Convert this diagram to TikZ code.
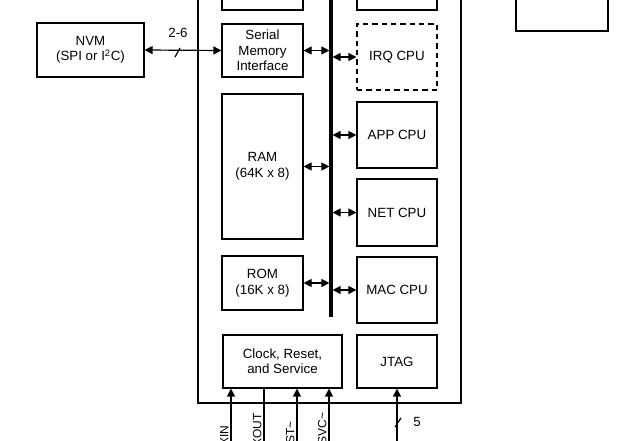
\documentclass[tikz,border=0pt]{standalone}
\usepackage{fontspec}
\setmainfont{Liberation Sans}
\usetikzlibrary{arrows.meta}
\newcommand{\px}{0.75pt}

\begin{document}
\begin{tikzpicture}[x=\px, y=-\px, line width=0.9pt,
	txt/.style={font=\fontsize{10}{11.6}\selectfont},
	blk/.style={txt, draw, inner sep=0pt, align=center},
	sz/.style 2 args={minimum width=#1*\px, minimum height=#2*\px},
	pin/.style={rotate=90, anchor=south east, inner sep=0pt, font=\fontsize{9}{10}\selectfont},
	>={Triangle[length=6pt,width=6pt]}]
	\useasboundingbox (0,0) rectangle (637,441);
	\draw (198,-10) rectangle (461,403);
	\node[blk, sz={81}{40}] (MEMX) at (262.5,-10) {};
	\node[blk, sz={80}{40}] (CPUX) at (397,-10) {};
	\node[blk, sz={92}{61}] (EXT) at (562,0.5) {};
	\node[blk, sz={107}{54}] (NVM) at (90.5,50) {NVM\\(SPI or I\textsuperscript{2}C)};
	\node[blk, sz={81}{53}] (SMI) at (262.5,50.5) {Serial\\Memory\\Interface};
	\node[blk, sz={81}{145}] (RAM) at (262.5,166.5) {RAM\\(64K x 8)};
	\node[blk, sz={81}{54}] (ROM) at (262.5,283) {ROM\\(16K x 8)};
	\node[blk, sz={119}{53}] (CLK) at (282.5,361.5) {Clock, Reset,\\and Service};
	\node[blk, sz={80}{66}, dashed, dash pattern=on 4pt off 3pt] (IRQ) at (397,57) {IRQ CPU};
	\node[blk, sz={80}{66}] (APP) at (397,135) {APP CPU};
	\node[blk, sz={80}{67}] (NET) at (397,212.5) {NET CPU};
	\node[blk, sz={80}{66}] (MAC) at (397,290) {MAC CPU};
	\node[blk, sz={80}{53}] (JTAG) at (397,361.5) {JTAG};
	\coordinate (BT) at (331,-5);
	\coordinate (BB) at (331,317);
	\draw[line width=2.3pt] (BT) -- (BB);
	\draw [<->] (NVM.east) -- (SMI.west);
	\node[txt] (BW) at (178,33) {2-6};
	\draw (175,57) -- (180,48);
	\draw [<->, shorten >=1.2pt] (SMI.east) -- (SMI.east -| BT);
	\draw [<->, shorten >=1.2pt] (RAM.east) -- (RAM.east -| BT);
	\draw [<->, shorten >=1.2pt] (ROM.east) -- (ROM.east -| BT);
	\draw [<->, shorten <=1.2pt] (IRQ.west -| BT) -- (IRQ.west);
	\draw [<->, shorten <=1.2pt] (APP.west -| BT) -- (APP.west);
	\draw [<->, shorten <=1.2pt] (NET.west -| BT) -- (NET.west);
	\draw [<->, shorten <=1.2pt] (MAC.west -| BT) -- (MAC.west);
	\coordinate (XIN) at (231,450);
	\coordinate (XOUT) at (264,450);
	\coordinate (RST) at (297,450);
	\coordinate (SVC) at (329,450);
	\coordinate (JT) at (397,450);
	\draw [->] (XIN) -- (XIN |- CLK.south);
	\draw (XOUT) -- (XOUT |- CLK.south);
	\draw [->] (RST) -- (RST |- CLK.south);
	\draw [->] (SVC) -- (SVC |- CLK.south);
	\draw [->] (JT) -- (JT |- JTAG.south);
	\node[pin] (XINL) at (229,425) {XIN};
	\node[pin] (XOUTL) at (262,413) {XOUT};
	\node[pin] (RSTL) at (295,421) {RST\textasciitilde};
	\node[pin] (SVCL) at (327,412) {SVC\textasciitilde};
	\draw (395,427) -- (401,418);
	\node[txt] (JW) at (417,422) {5};
\end{tikzpicture}
\end{document}
